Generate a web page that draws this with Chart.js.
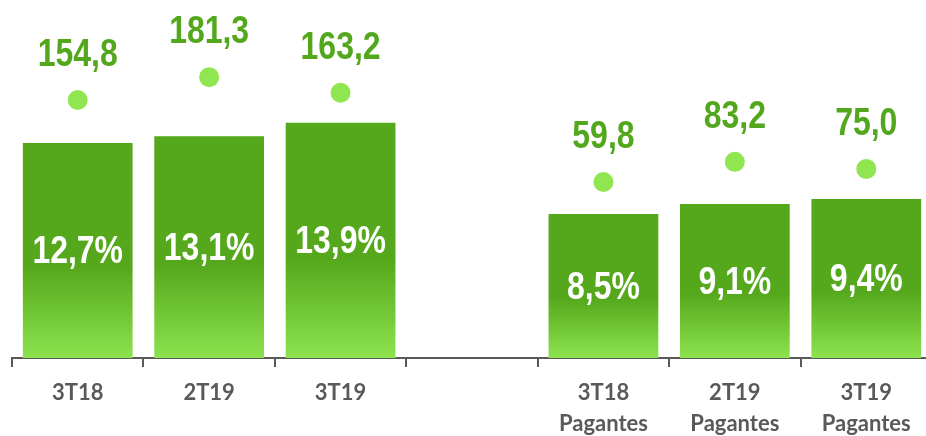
<!DOCTYPE html>
<html>
<head>
<meta charset="utf-8">
<script src="https://cdn.jsdelivr.net/npm/chart.js@4.4.1/dist/chart.umd.min.js"></script>
<style>
  html, body { margin: 0; padding: 0; background: #ffffff; overflow: hidden; }
  /* the plot runs a few pixels past the right edge of the window */
  #wrap { width: 932px; height: 436px; }
</style>
</head>
<body>
<div id="wrap"><canvas id="chart"></canvas></div>
<script>

// DATA

const categories = [
  "3T18", "2T19", "3T19", "",
  ["3T18", "Pagantes"], ["2T19", "Pagantes"], ["3T19", "Pagantes"]
];

const percentValues = [12.7, 13.1, 13.9, null, 8.5, 9.1, 9.4];

const dotValues = [154.8, 181.3, 163.2, null, 59.8, 83.2, 75.0];



// COLORS

const darkGreen = "#55a81b";
const lightGreen = "#8ce34e";
const dotGreen = "#8fe651";
const textGreen = "#52a71c";
const axisGrey = "#595959";

// no narrow font installed, so the labels are squeezed horizontally
const labelFont = "bold 39px 'Liberation Sans', Arial, sans-serif";
const squeeze = 0.82;



function formatNumber(v) {
  return v.toFixed(1).replace(".", ",");
}



function drawNarrowText(ctx, text, x, y) {
  ctx.save();
  ctx.translate(x, y);
  ctx.scale(squeeze, 1);
  ctx.fillText(text, 0, 0);
  ctx.restore();
}



// BAR GRADIENT (solid on top, fading to light at the base)

function barGradient(context) {

  const chart = context.chart;
  const yScale = chart.scales.y;
  const value = percentValues[context.dataIndex];

  if (!yScale || value == null) return darkGreen;

  const top = yScale.getPixelForValue(value);
  const bottom = yScale.getPixelForValue(0);

  if (!isFinite(top) || !isFinite(bottom) || bottom <= top) return darkGreen;

  const g = chart.ctx.createLinearGradient(0, top, 0, bottom);
  g.addColorStop(0, darkGreen);
  g.addColorStop(0.58, darkGreen);
  g.addColorStop(1, lightGreen);

  return g;
}



// LABELS PLUGIN

const labelPlugin = {

  id: "labelPlugin",

  afterDatasetsDraw(chart) {

    const ctx = chart.ctx;
    const barMeta = chart.getDatasetMeta(1);
    const dotMeta = chart.getDatasetMeta(0);

    ctx.save();
    ctx.textAlign = "center";
    ctx.textBaseline = "middle";
    ctx.font = labelFont;

    // percentages inside bars
    ctx.fillStyle = "#ffffff";
    barMeta.data.forEach((bar, i) => {
      if (percentValues[i] == null) return;
      drawNarrowText(
        ctx,
        formatNumber(percentValues[i]) + "%",
        bar.x,
        (bar.y + bar.base) / 2 + 2
      );
    });

    // values above dots
    ctx.fillStyle = textGreen;
    dotMeta.data.forEach((pt, i) => {
      if (dotValues[i] == null) return;
      drawNarrowText(ctx, formatNumber(dotValues[i]), pt.x, pt.y - 45);
    });

    ctx.restore();
  }
};



// CHART

new Chart(document.getElementById("chart"), {

  data: {

    labels: categories,

    datasets: [
      {
        type: "line",
        data: dotValues,
        yAxisID: "y2",
        showLine: false,
        pointRadius: 10,
        pointHoverRadius: 10,
        pointBackgroundColor: dotGreen,
        pointBorderWidth: 0,
        order: 0
      },
      {
        type: "bar",
        data: percentValues,
        yAxisID: "y",
        backgroundColor: barGradient,
        barPercentage: 0.835,
        categoryPercentage: 1,
        order: 1
      }
    ]
  },

  options: {

    responsive: true,
    maintainAspectRatio: false,
    animation: false,

    layout: {
      autoPadding: false,
      padding: { left: 12, right: 0, top: 0, bottom: 0 }
    },

    plugins: {
      legend: { display: false },
      tooltip: { enabled: false }
    },

    scales: {

      x: {
        offset: true,
        grid: {
          offset: true,
          drawOnChartArea: false,
          drawTicks: true,
          tickLength: 9,
          color: axisGrey,
          lineWidth: 2
        },
        border: {
          display: true,
          color: axisGrey,
          width: 2
        },
        ticks: {
          color: axisGrey,
          padding: 11,
          maxRotation: 0,
          autoSkip: false,
          font: {
            family: "Lato, 'DejaVu Sans', sans-serif",
            weight: "bold",
            size: 22,
            lineHeight: 1.4
          }
        },
        afterFit(scale) {
          scale.height = 78;
        }
      },

      y: {
        display: false,
        min: 0,
        max: 21.15
      },

      y2: {
        display: false,
        min: -144.1,
        max: 270.7
      }
    }
  },

  plugins: [labelPlugin]
});

</script>
</body>
</html>
